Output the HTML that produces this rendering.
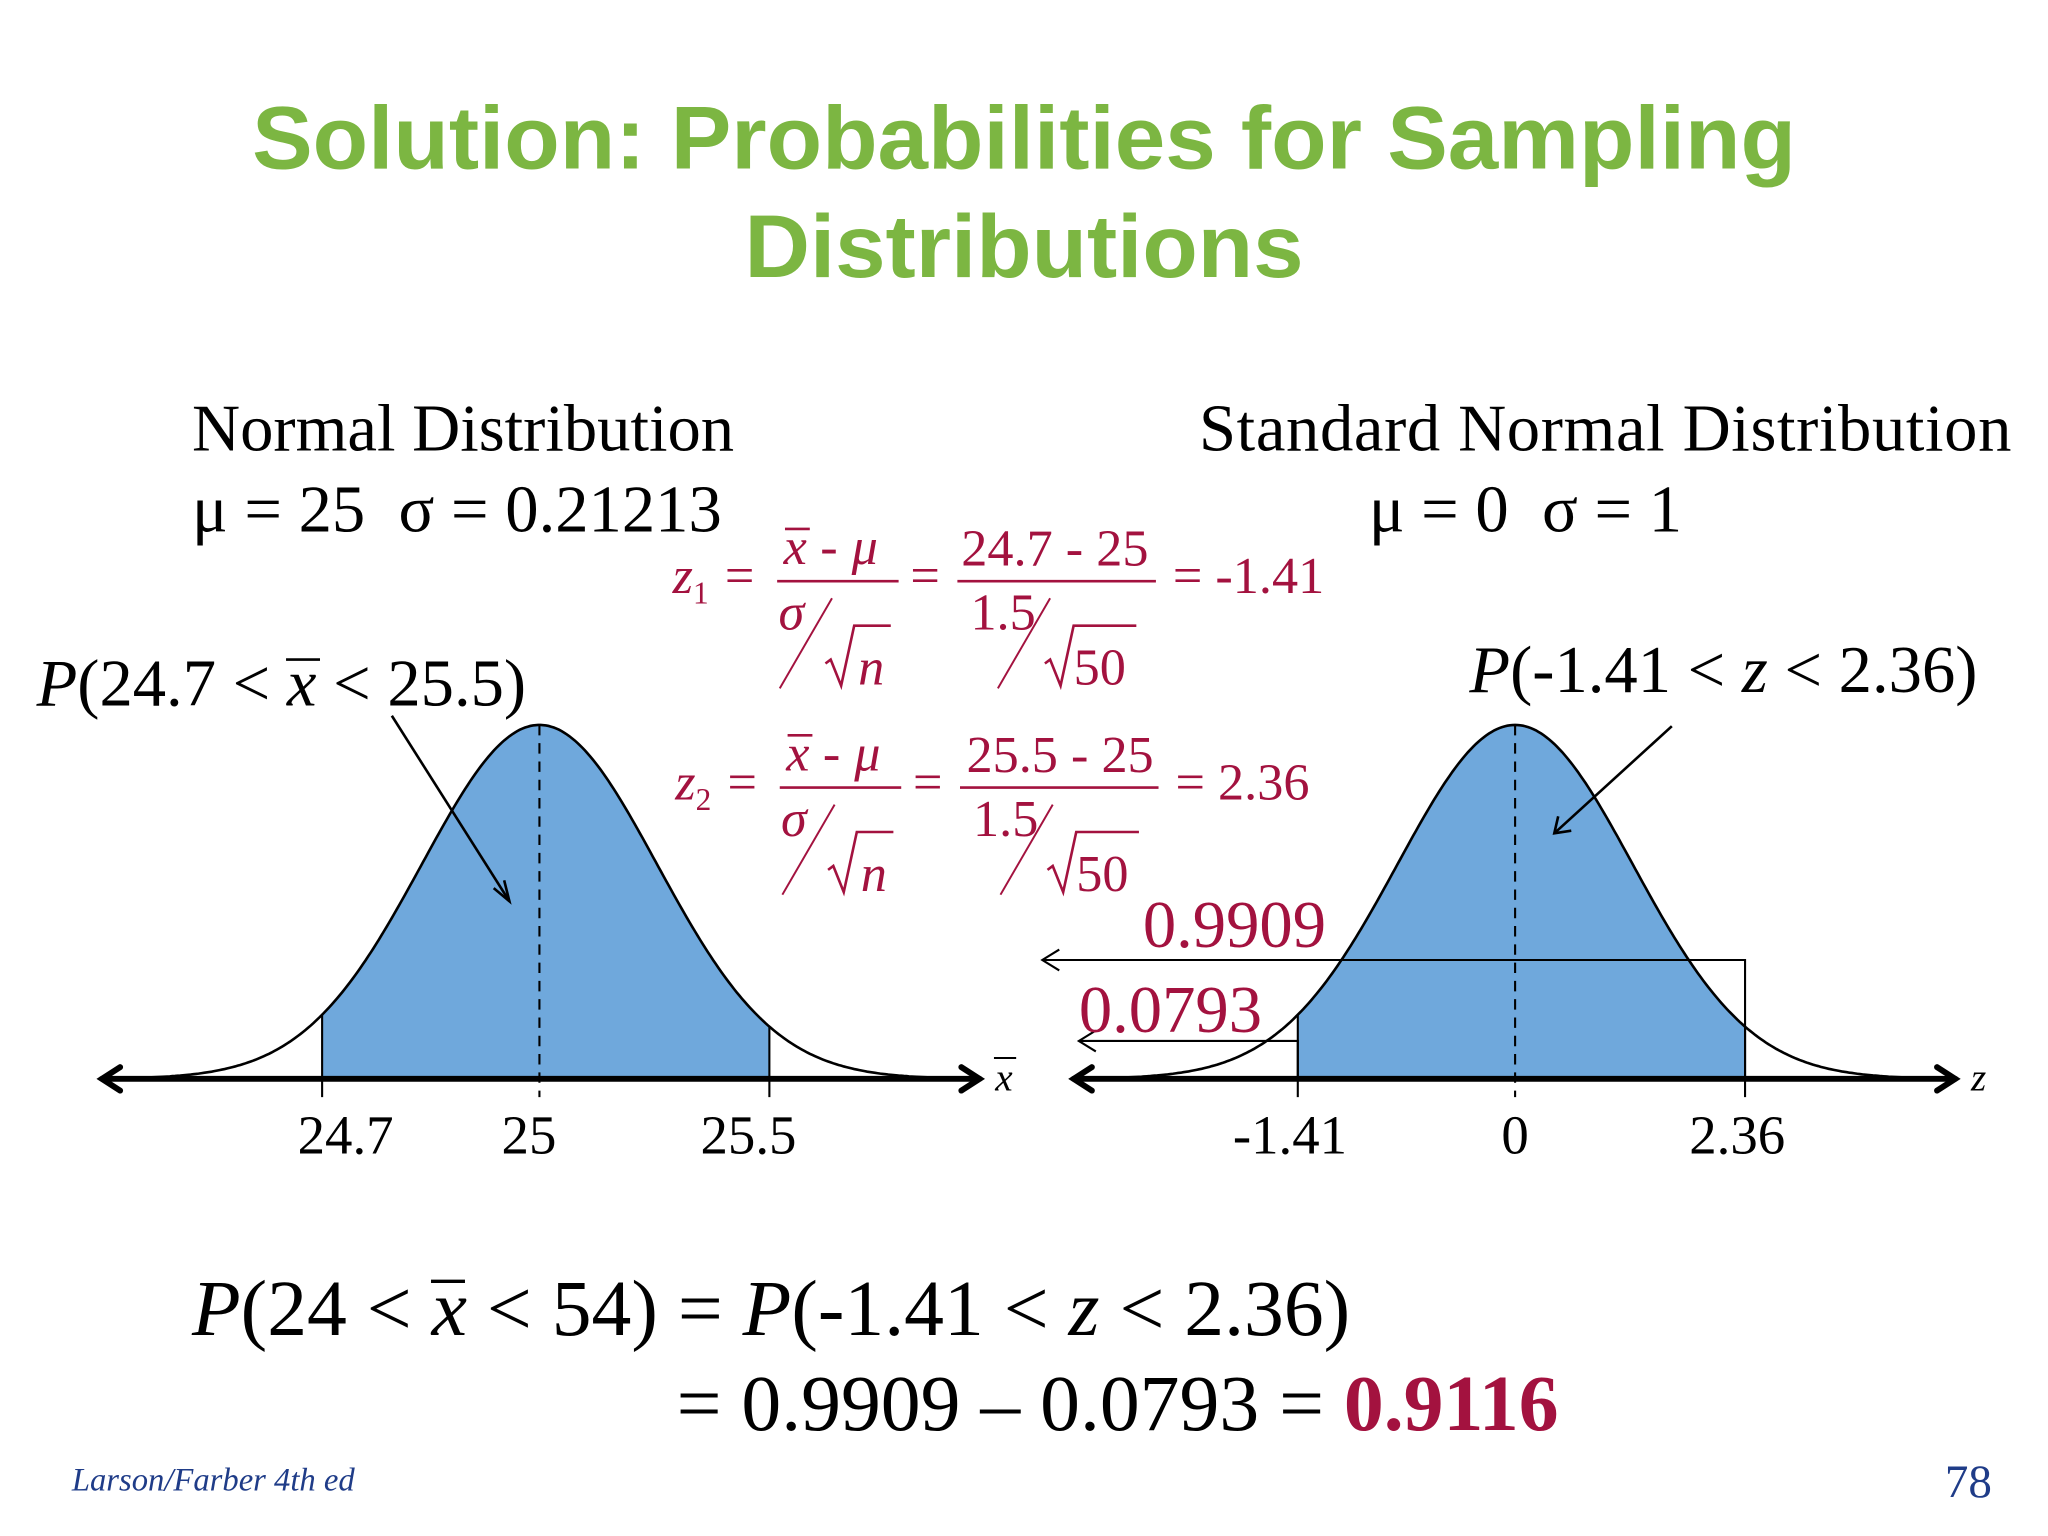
<!DOCTYPE html>
<html><head><meta charset="utf-8"><style>
html,body{margin:0;padding:0;background:#fff;}
svg{display:block;}
.serif{font-family:"Liberation Serif",serif;}
.red{fill:#a3123f;}
.pre{white-space:pre;}
</style></head><body>
<svg id="s" width="2048" height="1536" viewBox="0 0 1568 1176" xmlns="http://www.w3.org/2000/svg">
<g font-family="Liberation Sans, sans-serif" font-weight="bold" fill="#7cb642" font-size="68" text-anchor="middle">
<text x="784" y="129" textLength="1182" lengthAdjust="spacingAndGlyphs">Solution: Probabilities for Sampling</text>
<text x="784" y="212" textLength="428" lengthAdjust="spacingAndGlyphs">Distributions</text>
</g>
<g class="serif" font-size="51" fill="#000">
<text x="147" y="345">Normal Distribution</text>
<text x="147" y="407" class="pre">μ = 25  σ = 0.21213</text>
<text x="918" y="345" textLength="622">Standard Normal Distribution</text>
<text x="1048" y="407" class="pre">μ = 0  σ = 1</text>
<text x="28" y="540"><tspan font-style="italic">P</tspan>(24.7 &lt; <tspan font-style="italic">x</tspan> &lt; 25.5)</text>
<line x1="219" y1="505" x2="245" y2="505" stroke="#000" stroke-width="2"/>
<text x="1125" y="530"><tspan font-style="italic">P</tspan>(-1.41 &lt; <tspan font-style="italic">z</tspan> &lt; 2.36)</text>
</g>
<g id="formulas" class="serif red" font-size="40">
<g>
<text x="515" y="454" font-style="italic">z<tspan font-size="24" dy="8" font-style="normal">1</tspan></text>
<text x="555" y="454">=</text>
<text x="600" y="432" font-style="italic">x</text><line x1="601" y1="405" x2="620" y2="405" stroke="#a3123f" stroke-width="2"/>
<text x="628" y="432">-</text><text x="652" y="432" font-style="italic">μ</text>
<line x1="595" y1="445" x2="688" y2="445" stroke="#a3123f" stroke-width="2"/>
<text x="596" y="482" font-style="italic">σ</text>
<line x1="597" y1="527" x2="637" y2="458" stroke="#a3123f" stroke-width="1.5"/>
<path d="M632,508 l4,-3 8,20 10,-46 h28" fill="none" stroke="#a3123f" stroke-width="2"/>
<text x="657" y="524" font-style="italic">n</text>
<text x="697" y="454">=</text>
<text x="736" y="433">24.7 - 25</text>
<line x1="733" y1="445" x2="885" y2="445" stroke="#a3123f" stroke-width="2"/>
<text x="743" y="482">1.5</text>
<line x1="764" y1="527" x2="804" y2="458" stroke="#a3123f" stroke-width="1.5"/>
<path d="M800,508 l4,-3 8,20 10,-46 h48" fill="none" stroke="#a3123f" stroke-width="2"/>
<text x="822" y="524">50</text>
<text x="898" y="454">= -1.41</text>
</g>
<g transform="translate(2,158)">
<text x="515" y="454" font-style="italic">z<tspan font-size="24" dy="8" font-style="normal">2</tspan></text>
<text x="555" y="454">=</text>
<text x="600" y="432" font-style="italic">x</text><line x1="601" y1="405" x2="620" y2="405" stroke="#a3123f" stroke-width="2"/>
<text x="628" y="432">-</text><text x="652" y="432" font-style="italic">μ</text>
<line x1="595" y1="445" x2="688" y2="445" stroke="#a3123f" stroke-width="2"/>
<text x="596" y="482" font-style="italic">σ</text>
<line x1="597" y1="527" x2="637" y2="458" stroke="#a3123f" stroke-width="1.5"/>
<path d="M632,508 l4,-3 8,20 10,-46 h28" fill="none" stroke="#a3123f" stroke-width="2"/>
<text x="657" y="524" font-style="italic">n</text>
<text x="697" y="454">=</text>
<text x="738" y="433">25.5 - 25</text>
<line x1="733" y1="445" x2="885" y2="445" stroke="#a3123f" stroke-width="2"/>
<text x="743" y="482">1.5</text>
<line x1="764" y1="527" x2="804" y2="458" stroke="#a3123f" stroke-width="1.5"/>
<path d="M800,508 l4,-3 8,20 10,-46 h48" fill="none" stroke="#a3123f" stroke-width="2"/>
<text x="822" y="524">50</text>
<text x="898" y="454">= 2.36</text>
</g>
</g>
<g id="charts"></g>
<g class="serif" font-size="61" fill="#000">
<text x="147" y="1022"><tspan font-style="italic">P</tspan>(24 &lt; <tspan font-style="italic">x</tspan> &lt; 54) = <tspan font-style="italic">P</tspan>(-1.41 &lt; <tspan font-style="italic">z</tspan> &lt; 2.36)</text>
<line x1="330" y1="981" x2="356" y2="981" stroke="#000" stroke-width="2.5"/>
<text x="518" y="1095">= 0.9909 – 0.0793 = <tspan font-weight="bold" class="red">0.9116</tspan></text>
</g>
<text x="55" y="1141" class="serif" font-style="italic" font-size="25" fill="#1f3c88">Larson/Farber 4th ed</text>
<text x="1525" y="1146" class="serif" font-size="36" fill="#1f3c88" text-anchor="end">78</text>
</svg>
<script>
// data
const leftTicks = [24.7, 25, 25.5];
const leftTickLabels = ["24.7", "25", "25.5"];
const leftZ = [-1.41, 0, 2.36];
const rightTicks = [-1.41, 0, 2.36];
const rightTickLabels = ["-1.41", "0", "2.36"];
const areaLabels = ["0.9909", "0.0793"];
const areaValues = [0.9909, 0.0793];

const NS = "http://www.w3.org/2000/svg";
const root = document.getElementById('charts');
function mk(tag, attrs, parent){ const e=document.createElementNS(NS,tag); for(const k in attrs) e.setAttribute(k,attrs[k]); (parent||root).appendChild(e); return e; }
const baseY = 826, peakH = 271, sd = 90;
// piecewise z-axis (the slide is not drawn to scale)
function zx(cx, z){ return cx + (z < 0 ? z*118 : z*74.6); }
function curveY(cx, x){ return baseY - peakH*Math.exp(-Math.pow((x-cx)/sd,2)/2); }

function drawChart(name, cx, x0, x1, zTicks, labels, labelShift, axisLabel){
  const g = mk('g', {});
  
  
  const za = zx(cx, zTicks[0]), zb = zx(cx, zTicks[2]);
  let d = 'M'+za+','+baseY;
  for (let x=za; x<=zb; x+=2) d += ' L'+x+','+curveY(cx,x).toFixed(1);
  d += ' L'+zb+','+curveY(cx,zb).toFixed(1)+' L'+zb+','+baseY+' Z';
  const area = mk('path', {d:d, fill:'#6fa8dc'}, g);
  
  
  let c = '';
  for (let x=x0+8; x<=x1-12; x+=2) c += (c?' L':'M')+x+','+curveY(cx,x).toFixed(1);
  const curve = mk('path', {d:c, fill:'none', stroke:'#000', 'stroke-width':2}, g);
  
  
  const ax = mk('g', {stroke:'#000', 'stroke-width':4.5, fill:'none', 'stroke-linecap':'round'}, g);
  
  
  mk('line', {x1:x0, y1:baseY, x2:x1, y2:baseY}, ax);
  mk('path', {d:'M'+(x0+14)+','+(baseY-9)+' L'+x0+','+baseY+' L'+(x0+14)+','+(baseY+9)}, ax);
  mk('path', {d:'M'+(x1-14)+','+(baseY-9)+' L'+x1+','+baseY+' L'+(x1-14)+','+(baseY+9)}, ax);
  zTicks.forEach((z,i)=>{
    const x = zx(cx, z);
    const t = mk('line', {x1:x, y1: i==1 ? 555 : curveY(cx,x), x2:x, y2:baseY+14, stroke:'#000', 'stroke-width':1.6}, g);
    if (i==1) t.setAttribute('stroke-dasharray','8,6');
    
    
    const lb = mk('text', {x: x + labelShift[i], y:883, 'text-anchor':'middle', 'font-family':'Liberation Serif, serif', 'font-size':42}, g);
    lb.textContent = labels[i];
    
    
  });
  const al = mk('text', {x:x1+12, y:835, 'font-family':'Liberation Serif, serif', 'font-style':'italic', 'font-size':30}, g);
  al.textContent = axisLabel;
  
  
  return g;
}
const gl = drawChart('left-normal-chart', 413, 78, 750, leftZ, leftTickLabels, [18,-8,-16], 'x');
mk('line', {x1:761, y1:810, x2:778, y2:810, stroke:'#000', 'stroke-width':1.5}, gl);
mk('path', {d:'M300,548 L390,690', stroke:'#000', 'stroke-width':2, fill:'none'}, gl);
mk('path', {d:'M378,680 L390,690 L386,674', stroke:'#000', 'stroke-width':2, fill:'none'}, gl);
const gr = drawChart('right-standard-chart', 1160, 822, 1497, rightTicks, rightTickLabels, [-6,0,-6], 'z');
mk('path', {d:'M1280,556 L1190,638', stroke:'#000', 'stroke-width':2, fill:'none'}, gr);
mk('path', {d:'M1193,625 L1190,638 L1203,636', stroke:'#000', 'stroke-width':2, fill:'none'}, gr);
// area callouts
const ys = [735, 797], lx = [798, 826], tx = [875, 826], ty = [725, 790];
areaValues.forEach((v,i)=>{
  const xr = zx(1160, rightTicks[i==0?2:0]);
  const g = mk('g', {stroke:'#000', 'stroke-width':1.6, fill:'none'}, gr);
  
  
  mk('path', {d:'M'+xr+','+baseY+' L'+xr+','+ys[i]+' L'+lx[i]+','+ys[i]}, g);
  mk('path', {d:'M'+(lx[i]+13)+','+(ys[i]-8)+' L'+lx[i]+','+ys[i]+' L'+(lx[i]+13)+','+(ys[i]+8)}, g);
  const t = mk('text', {x:tx[i], y:ty[i], fill:'#a3123f', 'font-family':'Liberation Serif, serif', 'font-size':51}, gr);
  t.textContent = areaLabels[i];
  
  
});
</script>
</body></html>
